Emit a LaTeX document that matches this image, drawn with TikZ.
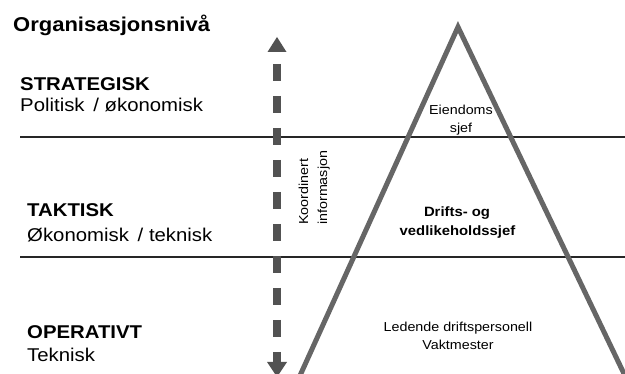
\documentclass[tikz,border=0pt]{standalone}
\usepackage{fontspec}
\setmainfont{Liberation Sans}[FakeStretch=1.1]
\begin{document}
\begin{tikzpicture}[x=1pt,y=-1pt,
  level/.style={anchor=base west,inner sep=0pt,font=\bfseries\fontsize{18.5}{22}\selectfont},
  levelsub/.style={anchor=base west,inner sep=0pt,font=\fontsize{18.5}{22}\selectfont},
  role/.style={anchor=base,inner sep=0pt,font=\fontsize{13}{18}\selectfont},
  rolebold/.style={anchor=base,inner sep=0pt,font=\bfseries\fontsize{13.5}{18}\selectfont},
  divider/.style={draw=black!85,line width=1.4pt},
  pyr/.style={draw=black!60,line width=5pt,line join=miter},
  flow/.style={draw=black!68,line width=8pt,dash pattern=on 17.5pt off 14.5pt},
  flowtip/.style={fill=black!68}]
\useasboundingbox (0,0) rectangle (625,374);

% dividers
\coordinate (d1l) at (20,137); \coordinate (d1r) at (625,137);
\coordinate (d2l) at (20,257); \coordinate (d2r) at (625,257);
\draw[divider] (d1l) -- (d1r);
\draw[divider] (d2l) -- (d2r);

% pyramid
\coordinate (apex) at (458,27);
\coordinate (lfoot) at (298,380);
\coordinate (rfoot) at (627,380);
\draw[pyr] (lfoot) -- (apex) -- (rfoot);

% flow arrow
\coordinate (ftop) at (277,64);
\coordinate (fbot) at (277,362);
\draw[flow] (ftop) -- (fbot);
\coordinate (ttip) at (277,37);
\coordinate (btip) at (277,377);
\fill[flowtip] (ttip) -- (286.5,52) -- (267.5,52) -- cycle;
\fill[flowtip] (btip) -- (287,362) -- (267,362) -- cycle;

% titles
\node[anchor=base west,inner sep=0pt,font=\bfseries\fontsize{20}{24}\selectfont] (title) at (13,32) {Organisasjonsnivå};
\node[level] (strat) at (20,91) {STRATEGISK};
\node[levelsub] (stratsub) at (20,112) {Politisk \,/ økonomisk};
\node[level] (takt) at (27,217) {TAKTISK};
\node[levelsub] (taktsub) at (27,242) {Økonomisk \,/ teknisk};
\node[level] (oper) at (27,339) {OPERATIVT};
\node[levelsub] (opersub) at (27,362) {Teknisk};

% roles
\node[role] (eien1) at (461,115) {Eiendoms};
\node[role] (eien2) at (461,133) {sjef};
\node[rolebold] (drift1) at (457,217) {Drifts- og};
\node[rolebold] (drift2) at (457.5,236) {vedlikeholdssjef};
\node[role] (led1) at (458,332) {Ledende driftspersonell};
\node[role] (led2) at (458,350) {Vaktmester};

% rotated text
\node[role,anchor=base west,rotate=90] (koord) at (308,225) {Koordinert};
\node[role,anchor=base west,rotate=90] (info) at (327,225) {informasjon};
\end{tikzpicture}
\end{document}
